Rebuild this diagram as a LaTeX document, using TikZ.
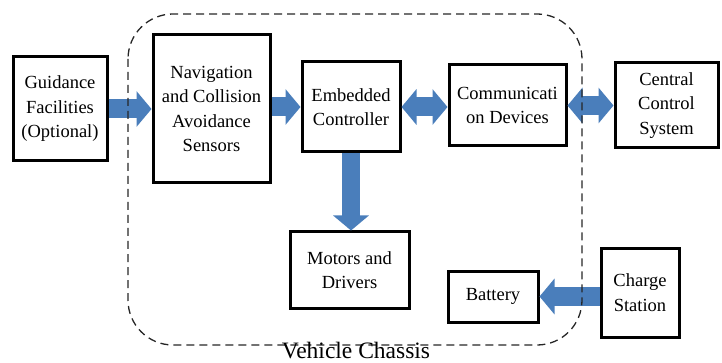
\documentclass[tikz,border=0pt]{standalone}
\usepackage{fontspec}
\setmainfont{Liberation Serif}
\usetikzlibrary{arrows.meta}
\definecolor{arrowblue}{HTML}{4A7EBB}
\tikzset{
  block/.style={draw, line width=3pt, align=center, inner sep=0pt,
    font=\fontsize{18.5}{24.5}\selectfont},
  fatarrow/.style={draw=arrowblue, line width=19pt,
    -{Triangle[length=15pt,width=35pt]}},
  fatboth/.style={draw=arrowblue, line width=19pt,
    {Triangle[length=15pt,width=35pt]}-{Triangle[length=15pt,width=35pt]}},
}
\begin{document}
\begin{tikzpicture}[x=1pt,y=-1pt]
\useasboundingbox (0,0) rectangle (722,363);

        % blocks
            \node[block, minimum width=94pt, minimum height=104pt] (guide) at (60,109) {Guidance\\Facilities\\(Optional)};
            \node[block, minimum width=117pt, minimum height=148pt] (nav) at (211.5,109) {Navigation\\and Collision\\Avoidance\\Sensors};
            \node[block, minimum width=98pt, minimum height=90pt] (ctrl) at (351,107) {Embedded\\Controller};
            \node[block, minimum width=117pt, minimum height=81pt] (comm) at (507.5,105.5) {Communicati\\on Devices};
            \node[block, minimum width=103pt, minimum height=85pt] (central) at (666.5,105.5) {Central\\Control\\System};
            \node[block, minimum width=119pt, minimum height=76pt] (motors) at (349.5,270) {Motors and\\Drivers};
            \node[block, minimum width=90pt, minimum height=51pt] (battery) at (493,296.5) {Battery};
            \node[block, minimum width=78pt, minimum height=89pt] (charge) at (640,292.5) {Charge\\Station};

        % arrows
            \draw[fatarrow] (guide.east) -- (nav.west);
            \draw[fatarrow] (nav.east |- ctrl.west) -- (ctrl.west);
            \draw[fatboth] (ctrl.east) -- (ctrl.east -| comm.west);
            \draw[fatboth] (comm.east) -- (central.west);
            \draw[fatarrow, line width=18pt] (ctrl.south) -- (ctrl.south |- motors.north);
            \draw[fatarrow] (charge.west |- battery.east) -- (battery.east);

        % vehicle chassis
            \draw[dashed, line width=1.3pt, gray!30!black, dash pattern=on 8pt off 5pt, rounded corners=45pt] (128,14) rectangle (582,345);
            \node[anchor=base, font=\fontsize{23.5}{28}\selectfont] (chassis) at (356,358) {Vehicle Chassis};

\end{tikzpicture}
\end{document}
